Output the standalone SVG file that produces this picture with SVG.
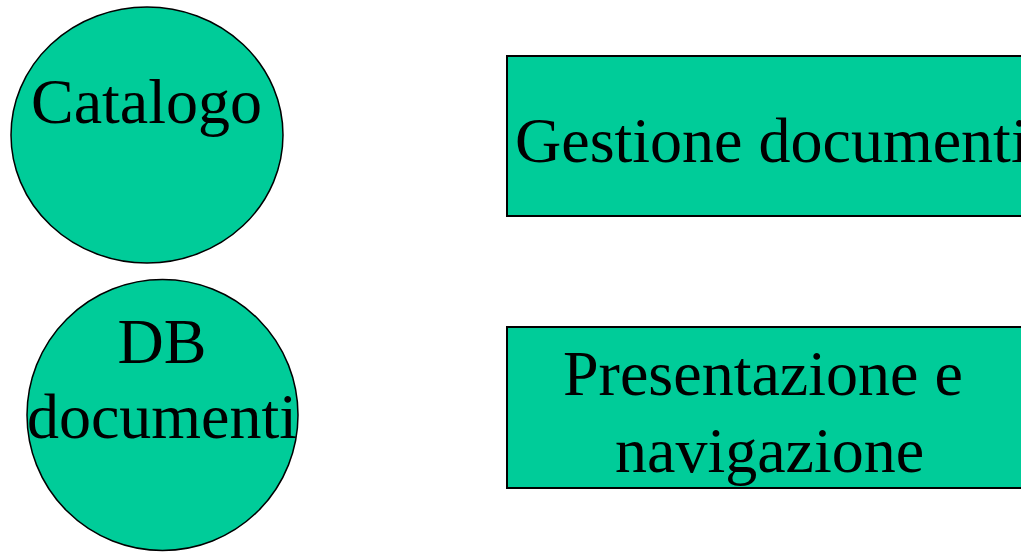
<svg xmlns="http://www.w3.org/2000/svg" width="1021" height="552" viewBox="0 0 1021 552">
  <style>
    .shape { fill: #00cc99; stroke: #000000; }
    ellipse.shape { stroke-width: 1.5; }
    rect.shape { stroke-width: 2; }
    .label { font-family: "Liberation Serif", "Times New Roman", serif; font-size: 64px; fill: #000000; }
  </style>
  <rect width="1021" height="552" fill="#ffffff"/>
  <g id="connectors"></g>
  <g id="catalogo">
    <ellipse class="shape" cx="147" cy="135" rx="136" ry="128"/>
    <text class="label" x="146.5" y="123" text-anchor="middle">Catalogo</text>
  </g>
  <g id="db-documenti">
    <ellipse class="shape" cx="162.5" cy="415" rx="135.5" ry="135.5"/>
    <text class="label" x="162" y="363" text-anchor="middle">DB</text>
    <text class="label" x="162" y="438" text-anchor="middle">documenti</text>
  </g>
  <g id="gestione-documenti">
    <rect class="shape" x="507" y="56" width="530" height="160"/>
    <text class="label" x="515" y="162">Gestione documenti</text>
  </g>
  <g id="presentazione-navigazione">
    <rect class="shape" x="507" y="327" width="530" height="161"/>
    <text class="label" x="563" y="395">Presentazione e</text>
    <text class="label" x="615" y="472">navigazione</text>
  </g>
</svg>
